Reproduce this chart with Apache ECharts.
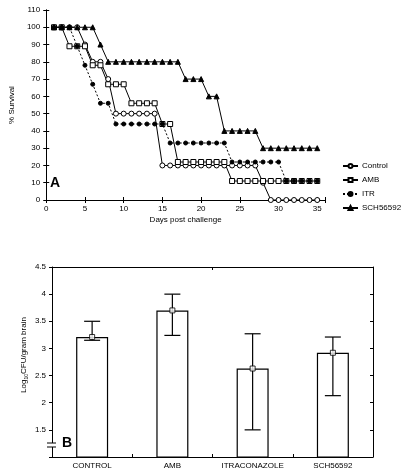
<!DOCTYPE html>
<html><head><meta charset="utf-8">
<script src="https://cdn.jsdelivr.net/npm/echarts@6/dist/echarts.min.js"></script>
<style>html,body{margin:0;padding:0;background:#fff}#c{width:402px;height:472px}</style>
</head><body><div id="c"></div>
<script>
// ---- Panel A data ----
var days = [1,2,3,4,5,6,7,8,9,10,11,12,13,14,15,16,17,18,19,20,21,22,23,24,25,26,27,28,29,30,31,32,33,34,35];
var controlSurv = [100,100,100,100,90,80,80,70,50,50,50,50,50,50,20,20,20,20,20,20,20,20,20,20,20,20,20,10,0,0,0,0,0,0,0];
var ambSurv = [100,100,89,89,89,78,78,67,67,67,56,56,56,56,44,44,22,22,22,22,22,22,22,11,11,11,11,11,11,11,11,11,11,11,11];
var itrSurv = [100,100,100,89,78,67,56,56,44,44,44,44,44,44,44,33,33,33,33,33,33,33,33,22,22,22,22,22,22,22,11,11,11,11,11];
var schSurv = [100,100,100,100,100,100,90,80,80,80,80,80,80,80,80,80,80,70,70,70,60,60,40,40,40,40,40,30,30,30,30,30,30,30,30];
var seriesNames = ['Control','AMB','ITR','SCH56592'];
var xTicksA = [0,5,10,15,20,25,30,35];
// ---- Panel B data ----
var groups = ['CONTROL','AMB','ITRACONAZOLE','SCH56592'];
var meanCFU = [3.21,3.70,2.63,2.92];
var errHigh = [3.50,4.00,3.27,3.21];
var errLow = [3.15,3.24,1.50,2.13];
var yTicksB = ['1.5','2','2.5','3','3.5','4','4.5'];

function pairs(v){ return days.map(function(d,i){ return [d, v[i]]; }); }
var FONT = 'Liberation Sans';
var chart = echarts.init(document.getElementById('c'), null, {renderer:'canvas'});
var axisLine = {show:true, lineStyle:{color:'#000', width:1}};
var tickIn = {show:true, inside:true, length:3, lineStyle:{color:'#000'}};
var lblStyle = {color:'#000', fontFamily:FONT, fontSize:8};

function lineSeries(name, data, symbol, fill, dash, size){
  return {type:'line', name:name, xAxisIndex:0, yAxisIndex:0, data:pairs(data),
    symbol:symbol, symbolSize:size, showSymbol:true,
    itemStyle:{color:fill, borderColor:'#000', borderWidth:1},
    lineStyle:{color:'#000', width:1, type:dash}, z:3, animation:false};
}

var option = {
  animation:false,
  textStyle:{fontFamily:FONT},
  grid:[
    {left:40, top:10, width:285, height:190},
    {left:52, top:267, width:321, height:190}
  ],
  legend:{
    left:337, top:157, orient:'vertical', itemWidth:15, itemHeight:5, itemGap:6,
    textStyle:{color:'#000', fontFamily:FONT, fontSize:8, padding:[0,0,0,-1]},
    data:seriesNames.map(function(n){return {name:n};})
  },
  xAxis:[
    {gridIndex:0, type:'value', min:0, max:36, interval:5, axisLine:axisLine, axisTick:tickIn,
     splitLine:{show:false},
     axisLabel:Object.assign({margin:5, formatter:function(v){return xTicksA.indexOf(v)>=0 ? String(v) : '';}}, lblStyle),
     name:'Days post challenge', nameLocation:'middle', nameGap:16,
     nameTextStyle:{color:'#000', fontFamily:FONT, fontSize:8}},
    {gridIndex:0, type:'value', position:'top', min:0, max:36, interval:5, axisLine:axisLine, axisTick:tickIn,
     axisLabel:{show:false}, splitLine:{show:false}},
    {gridIndex:1, type:'category', data:groups, axisLine:axisLine,
     axisTick:{show:true, inside:true, length:3, alignWithLabel:false, lineStyle:{color:'#000'}},
     axisLabel:Object.assign({margin:5, interval:0}, lblStyle)},
    {gridIndex:1, type:'category', position:'top', data:groups, axisLine:axisLine,
     axisTick:{show:true, inside:true, length:3, lineStyle:{color:'#000'}}, axisLabel:{show:false}}
  ],
  yAxis:[
    {gridIndex:0, type:'value', min:0, max:110, interval:10, axisLine:axisLine, axisTick:tickIn,
     splitLine:{show:false}, axisLabel:Object.assign({margin:6}, lblStyle),
     name:'% Survival', nameLocation:'middle', nameGap:24,
     nameTextStyle:{color:'#000', fontFamily:FONT, fontSize:8}},
    {gridIndex:0, type:'value', position:'right', min:0, max:110, interval:10, axisLine:axisLine, axisTick:tickIn,
     axisLabel:{show:false}, splitLine:{show:false}},
    {gridIndex:1, type:'value', min:1, max:4.5, interval:0.5, axisLine:axisLine,
     axisTick:{show:true, inside:false, length:3, lineStyle:{color:'#000'}},
     splitLine:{show:false},
     axisLabel:Object.assign({margin:6, formatter:function(v){var s=String(v); return yTicksB.indexOf(s)>=0 ? s : '';}}, lblStyle)},
    {gridIndex:1, type:'value', position:'right', min:1, max:4.5, interval:0.5, axisLine:axisLine, axisTick:tickIn,
     axisLabel:{show:false}, splitLine:{show:false}}
  ],
  series:[
    lineSeries('Control', controlSurv, 'circle', '#fff', 'solid', 5),
    lineSeries('AMB', ambSurv, 'rect', '#fff', 'solid', 5),
    lineSeries('ITR', itrSurv, 'circle', '#000', [2,2], 4),
    lineSeries('SCH56592', schSurv, 'triangle', '#000', 'solid', 5),
    {type:'bar', xAxisIndex:2, yAxisIndex:2, data:meanCFU, barWidth:32,
     itemStyle:{color:'#fff', borderColor:'#000', borderWidth:1.2}, z:2},
    {type:'custom', xAxisIndex:2, yAxisIndex:2, z:4,
     data:groups.map(function(g,i){return [i, errLow[i], errHigh[i]];}),
     renderItem:function(params, api){
       var lo = api.coord([api.value(0), api.value(1)]);
       var hi = api.coord([api.value(0), api.value(2)]);
       var cap = 8;
       var st = {stroke:'#000', lineWidth:1.2};
       return {type:'group', children:[
         {type:'line', shape:{x1:hi[0], y1:hi[1], x2:lo[0], y2:lo[1]}, style:st},
         {type:'line', shape:{x1:hi[0]-cap, y1:hi[1], x2:hi[0]+cap, y2:hi[1]}, style:st},
         {type:'line', shape:{x1:lo[0]-cap, y1:lo[1], x2:lo[0]+cap, y2:lo[1]}, style:st}
       ]};
     }},
    {type:'scatter', xAxisIndex:2, yAxisIndex:2, data:meanCFU, symbol:'rect', symbolSize:5,
     itemStyle:{color:'#fff', borderColor:'#000', borderWidth:1}, z:5}
  ],
  graphic:[
    {type:'text', left:50, top:176, style:{text:'A', fontFamily:FONT, fontSize:14, fontWeight:'bold', fill:'#000'}},
    {type:'text', left:62, top:436, style:{text:'B', fontFamily:FONT, fontSize:14, fontWeight:'bold', fill:'#000'}},
    {type:'text', x:24, y:355, rotation:Math.PI/2, style:{
      text:'{n|Log}{s|10}{n|CFU/gram brain}', align:'center', verticalAlign:'middle',
      rich:{n:{fontFamily:FONT, fontSize:8, fill:'#000'}, s:{fontFamily:FONT, fontSize:5, fill:'#000', padding:[5,0,0,0]}}}},
    {type:'rect', shape:{x:49, y:443, width:6, height:4}, style:{fill:'#fff'}, z:10},
    {type:'line', shape:{x1:47, y1:443, x2:56, y2:443}, style:{stroke:'#000', lineWidth:1}, z:11},
    {type:'line', shape:{x1:47, y1:447, x2:56, y2:447}, style:{stroke:'#000', lineWidth:1}, z:11}
  ]
};
chart.setOption(option);
</script></body></html>
